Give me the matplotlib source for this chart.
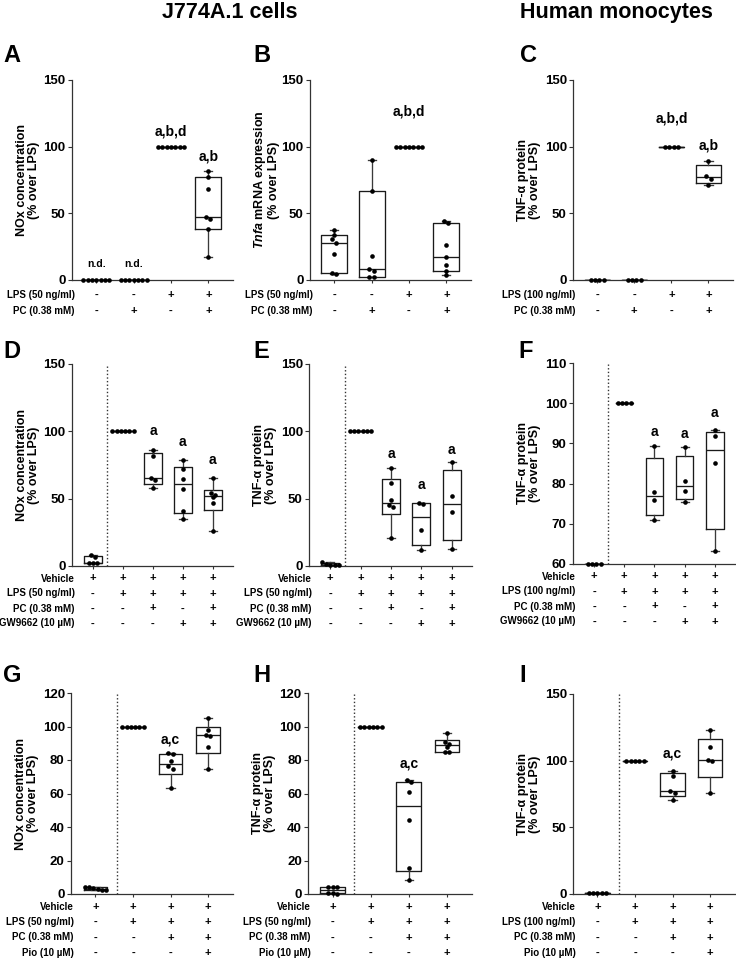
import numpy as np
import matplotlib
matplotlib.use('Agg')
import matplotlib.pyplot as plt

plt.rcParams['font.family'] = ['Liberation Sans', 'DejaVu Sans']
plt.rcParams['font.weight'] = 'bold'
plt.rcParams['mathtext.fontset'] = 'custom'
plt.rcParams['mathtext.it'] = 'Liberation Sans:italic:bold'
plt.rcParams['mathtext.rm'] = 'Liberation Sans:bold'

W, H = 736, 959

# ---------------------------------------------------------------------------
# Datos (% over LPS)

a_vals = [[0, 0, 0, 0, 0, 0, 0],
          [0, 0, 0, 0, 0, 0, 0],
          [100, 100, 100, 100, 100, 100, 100],
          [82, 77.5, 68, 47, 46, 38.5, 17]]
b_vals = [[37.5, 34, 30.5, 28, 19.5, 5.5, 4.5],
          [90, 66.5, 18, 8, 6.5, 2.5, 2],
          [100, 100, 100, 100, 100, 100, 100],
          [44.5, 43, 26, 17, 11, 6.5, 3.5]]
c_vals = [[0, 0, 0, 0],
          [0, 0, 0, 0],
          [100, 100, 100, 100],
          [89.5, 78, 76, 71.5]]
d_vals = [[8, 7, 2, 2, 2],
          [100, 100, 100, 100, 100, 100],
          [86, 82, 65, 64, 58],
          [79, 72, 64.5, 57, 40.5, 35],
          [65, 54, 52.5, 51, 46.5, 26]]
e_vals = [[2.8, 1.5, 1, 1, 0.8],
          [100, 100, 100, 100, 100, 100],
          [72.5, 61.5, 49, 45, 44, 21],
          [47, 46, 27, 12],
          [77.5, 52, 40, 12.5]]
f_vals = [[60, 60, 60, 60],
          [100, 100, 100, 100],
          [89.3, 77.8, 76, 71],
          [89, 80.6, 78.1, 75.4],
          [93.3, 91.9, 85, 63.3]]
g_vals = [[4, 4, 3.5, 3, 2.6, 2.5],
          [100, 100, 100, 100, 100, 100],
          [84.2, 83.6, 79.2, 76.2, 74.8, 63.3],
          [105, 98, 95, 94.5, 87.5, 74.6]]
h_vals = [[4.2, 4.2, 4.2, 0.6, 0.4, 0.2],
          [100, 100, 100, 100, 100, 100],
          [68.3, 66.7, 60.7, 44.2, 15.5, 8.4],
          [96, 90.5, 89.5, 88, 84.8, 84.6]]
i_vals = [[0.5, 0.5, 0.5, 0.5, 0.5],
          [100, 100, 100, 100, 100],
          [92.6, 88.6, 77.6, 76.1, 70.6],
          [123, 110, 100.6, 99.6, 75.6]]

# Letras de significancia: (grupo, y, texto)
a_sig = [(0, 12, 'n.d.'), (1, 12, 'n.d.'), (2, 111, 'a,b,d'), (3, 92.5, 'a,b')]
b_sig = [(2, 126, 'a,b,d')]
c_sig = [(2, 121, 'a,b,d'), (3, 101, 'a,b')]
d_sig = [(2, 100, 'a'), (3, 92, 'a'), (4, 79, 'a')]
e_sig = [(2, 83.3, 'a'), (3, 60.3, 'a'), (4, 86.3, 'a')]
f_sig = [(2, 92.75, 'a'), (3, 92.3, 'a'), (4, 97.6, 'a')]
g_sig = [(2, 92.1, 'a,c')]
h_sig = [(2, 77.8, 'a,c')]
i_sig = [(2, 105.6, 'a,c')]

# Tablas de tratamientos
rows_abc_50 = [('LPS (50 ng/ml)', ['-', '-', '+', '+']),
               ('PC (0.38 mM)', ['-', '+', '-', '+'])]
rows_c = [('LPS (100 ng/ml)', ['-', '-', '+', '+']),
          ('PC (0.38 mM)', ['-', '+', '-', '+'])]
rows_de = [('Vehicle', ['+', '+', '+', '+', '+']),
           ('LPS (50 ng/ml)', ['-', '+', '+', '+', '+']),
           ('PC (0.38 mM)', ['-', '-', '+', '-', '+']),
           ('GW9662 (10 µM)', ['-', '-', '-', '+', '+'])]
rows_f = [('Vehicle', ['+', '+', '+', '+', '+']),
          ('LPS (100 ng/ml)', ['-', '+', '+', '+', '+']),
          ('PC (0.38 mM)', ['-', '-', '+', '-', '+']),
          ('GW9662 (10 µM)', ['-', '-', '-', '+', '+'])]
rows_gh = [('Vehicle', ['+', '+', '+', '+']),
           ('LPS (50 ng/ml)', ['-', '+', '+', '+']),
           ('PC (0.38 mM)', ['-', '-', '+', '+']),
           ('Pio (10 µM)', ['-', '-', '-', '+'])]
rows_i = [('Vehicle', ['+', '+', '+', '+']),
          ('LPS (100 ng/ml)', ['-', '+', '+', '+']),
          ('PC (0.38 mM)', ['-', '-', '+', '+']),
          ('Pio (10 µM)', ['-', '-', '-', '+'])]

lab_nox = 'NOx concentration\n(% over LPS)'
lab_tnf = 'TNF-α protein\n(% over LPS)'
lab_mrna = '$\\it{Tnfa}$ mRNA expression\n(% over LPS)'

# ---------------------------------------------------------------------------
fig = plt.figure(figsize=(W / 100, H / 100), dpi=100)


def eje(l, t, r, b):
    return fig.add_axes([l / W, 1 - b / H, (r - l) / W, (b - t) / H])


def enjambre(ax, x0, vals, d_px=4.3):
    # reparte horizontalmente los puntos que caen a la misma altura
    tr = ax.transData
    inv = tr.inverted()
    filas = []
    for v in sorted(vals, reverse=True):
        py = tr.transform((x0, v))[1]
        if filas and abs(filas[-1][0] - py) < d_px * 0.9:
            filas[-1][1].append(v)
        else:
            filas.append([py, [v]])
    px0 = tr.transform((x0, 0))[0]
    xs, ys = [], []
    for py, fila in filas:
        k = len(fila)
        for j, v in enumerate(fila):
            xs.append(inv.transform((px0 + (j - (k - 1) / 2) * d_px, py))[0])
            ys.append(v)
    ax.scatter(xs, ys, s=11, color='black', lw=0, zorder=5, clip_on=False)


def panel(rect, grupos, ylim, yticks, ylabel, sig, filas, offs, sep=None,
          box_w=0.65, cap_w=0.22):
    ax = eje(*rect)
    n = len(grupos)
    xlim = (-0.65, 3.66) if n == 4 else (-0.7, 4.67)
    ax.set_xlim(*xlim)
    ax.set_ylim(*ylim)
    pos = np.arange(n)
    stats = []
    for g in grupos:
        v = np.asarray(g, float)
        q1, med, q3 = np.percentile(v, [25, 50, 75], method='weibull')
        stats.append(dict(med=med, q1=q1, q3=q3, whislo=v.min(),
                          whishi=v.max(), fliers=[]))
    lp = dict(color='#1a1a1a', lw=0.95)
    wp = dict(color='#3a3a3a', lw=0.95)
    ax.bxp(stats, positions=pos, widths=box_w, capwidths=cap_w,
           showfliers=False, boxprops=lp, medianprops=lp,
           whiskerprops=wp, capprops=wp, manage_ticks=False)
    for k, g in enumerate(grupos):
        enjambre(ax, k, g)
    if sep is not None:
        ax.axvline(sep, color='#333333', lw=1.0, ls=(0, (1, 1.6)))
    for k, y, txt in sig:
        fs = 7.5 if txt == 'n.d.' else 10
        ax.text(k, y, txt, ha='center', va='center', fontsize=fs,
                fontweight='bold')
    ax.set_yticks(yticks)
    ax.set_xticks(pos)
    ax.tick_params(axis='y', direction='out', length=3, width=0.8,
                   labelsize=9.5, pad=1.5, color='#333333')
    ax.tick_params(axis='x', direction='out', length=2.5, width=0.8,
                   labelbottom=False, color='#333333')
    for s in ('top', 'right'):
        ax.spines[s].set_visible(False)
    for s in ('left', 'bottom'):
        ax.spines[s].set_color('#333333')
        ax.spines[s].set_linewidth(0.9)
    ax.set_ylabel(ylabel, fontsize=9, fontweight='bold', va='center',
                  linespacing=0.95)
    ax.yaxis.set_label_coords(-44 / (rect[2] - rect[0]), 0.5)
    # tabla de tratamientos bajo el eje
    for (nombre, signos), off in zip(filas, offs):
        ax.annotate(nombre, xy=(0, 0), xycoords='axes fraction',
                    xytext=(2, -off * 0.72), textcoords='offset points',
                    ha='right', va='center', fontsize=7, fontweight='bold',
                    annotation_clip=False)
        for k, sg in enumerate(signos):
            ax.annotate(sg, xy=(k, ylim[0]), xycoords='data',
                        xytext=(0, -off * 0.72), textcoords='offset points',
                        ha='center', va='center', fontsize=8,
                        fontweight='bold', annotation_clip=False)
    return ax


off2 = [15, 31]
off4a = [12.5, 27.5, 42.5, 57.5]
off4b = [13, 28, 43.5, 59]

panel((72, 80, 233, 280), a_vals, (0, 150), [0, 50, 100, 150], lab_nox,
      a_sig, rows_abc_50, off2, box_w=0.7)
panel((310, 80, 471, 280), b_vals, (0, 150), [0, 50, 100, 150], lab_mrna,
      b_sig, rows_abc_50, off2, box_w=0.7)
panel((573, 80, 733, 280), c_vals, (0, 150), [0, 50, 100, 150], lab_tnf,
      c_sig, rows_c, off2, box_w=0.67)

panel((72, 364, 233, 566), d_vals, (0, 150), [0, 50, 100, 150], lab_nox,
      d_sig, rows_de, off4a, sep=0.48, box_w=0.6, cap_w=0.27)
panel((309, 364, 472, 566), e_vals, (0, 150), [0, 50, 100, 150], lab_tnf,
      e_sig, rows_de, off4a, sep=0.48, box_w=0.6, cap_w=0.27)
panel((573, 363, 735, 564), f_vals, (60, 110), [60, 70, 80, 90, 100, 110],
      lab_tnf, f_sig, rows_f, off4a, sep=0.47, box_w=0.58, cap_w=0.27)

panel((71, 693, 233, 894), g_vals, (0, 120), [0, 20, 40, 60, 80, 100, 120],
      lab_nox, g_sig, rows_gh, off4b, sep=0.57, box_w=0.63)
panel((308, 693, 472, 894), h_vals, (0, 120), [0, 20, 40, 60, 80, 100, 120],
      lab_tnf, h_sig, rows_gh, off4b, sep=0.57, box_w=0.65)
panel((573, 694, 735, 894), i_vals, (0, 150), [0, 50, 100, 150], lab_tnf,
      i_sig, rows_i, off4b, sep=0.57, box_w=0.65)

# titulos de columna y letras de panel
fig.text(230 / W, 1 - 18 / H, 'J774A.1 cells', ha='center', va='baseline',
         fontsize=15.5, fontweight='bold')
fig.text(616 / W, 1 - 18 / H, 'Human monocytes', ha='center', va='baseline',
         fontsize=15.5, fontweight='bold')
letras = [('A', 3, 62), ('B', 253, 62), ('C', 520, 62),
          ('D', 3, 358), ('E', 253, 358), ('F', 518, 358),
          ('G', 3, 682), ('H', 253, 682), ('I', 519, 682)]
for let, x, y in letras:
    fig.text(x / W, 1 - y / H, let, ha='left', va='baseline', fontsize=17,
             fontweight='bold')

fig.savefig('out.png', dpi=100)
